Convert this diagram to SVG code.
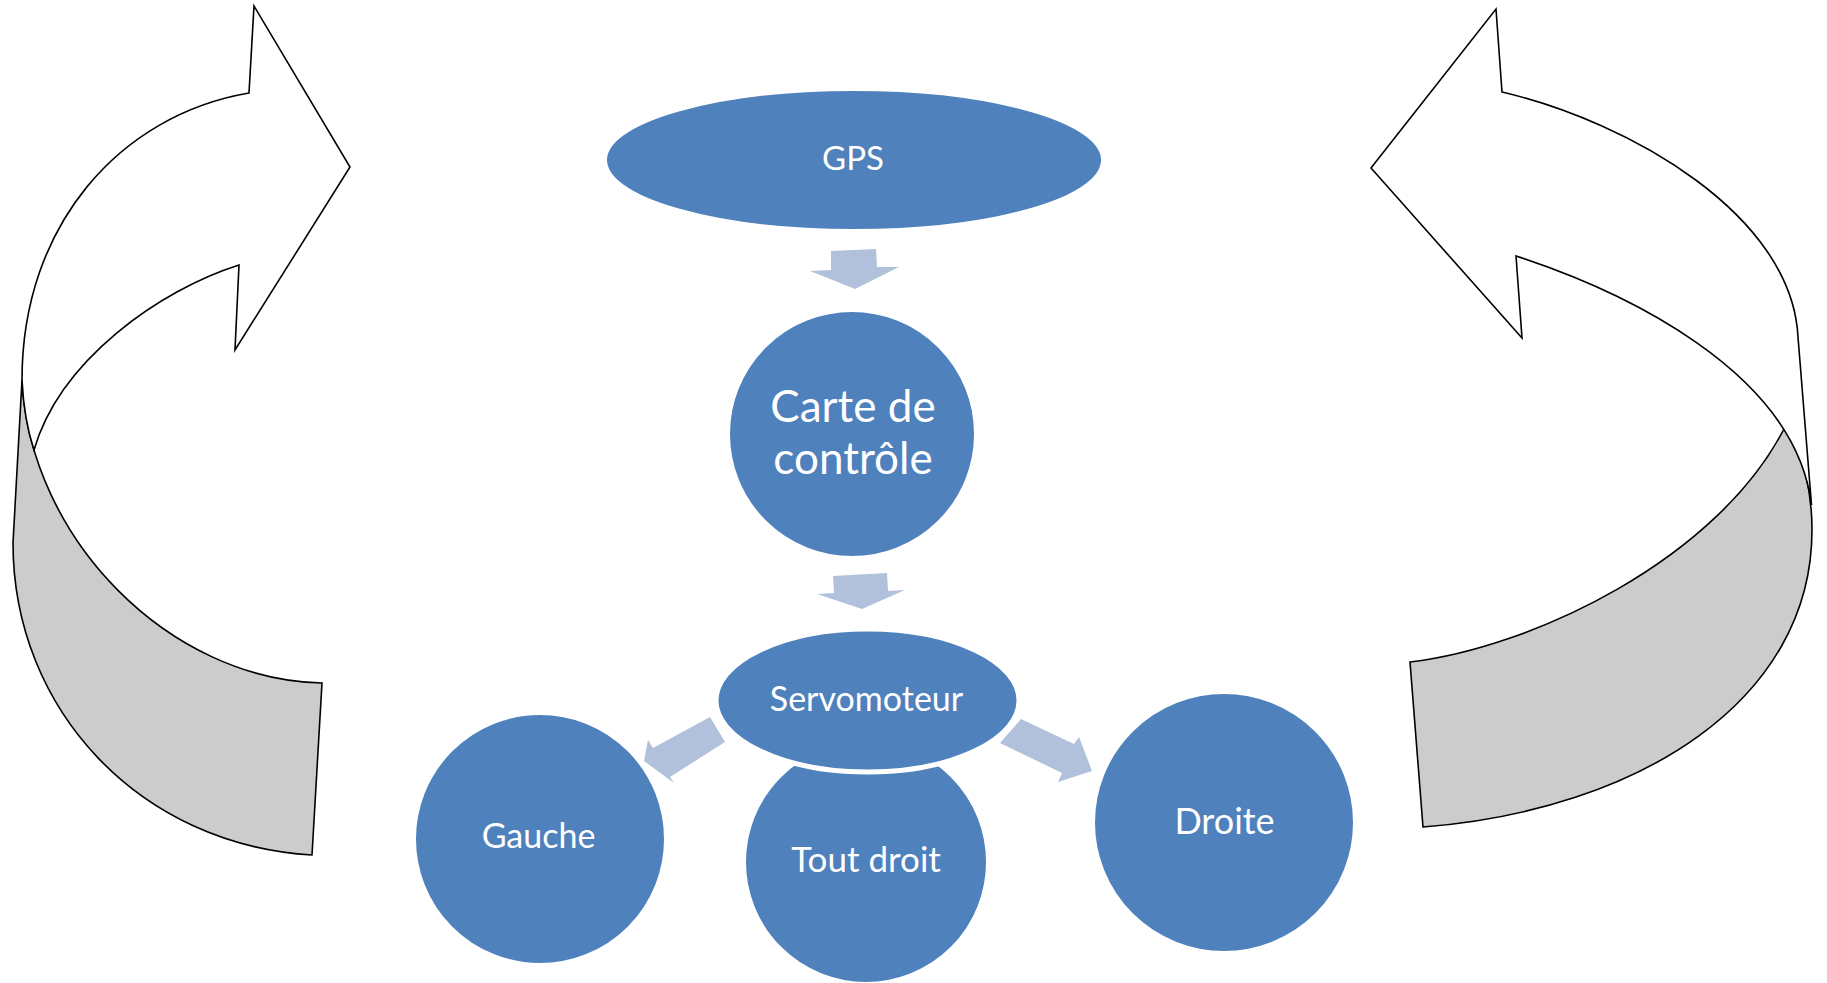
<svg xmlns="http://www.w3.org/2000/svg" width="1827" height="983" viewBox="0 0 1827 983">
<style>
.node{fill:#4F81BD;stroke:#FFFFFF;stroke-width:2}
.lbl{fill:#FFFFFF;font-family:Lato,"Liberation Sans",sans-serif;text-anchor:middle}
.conn{fill:#B2C1DB;stroke:none}
.band{fill:#CCCCCC;stroke:#000000;stroke-width:1.6;stroke-linejoin:miter}
.front{fill:#FFFFFF;stroke:#000000;stroke-width:1.6;stroke-linejoin:miter}
</style>
<rect width="1827" height="983" fill="#FFFFFF"/>
<g id="cycle-left">
<path class="band" d="M 22,380 L 13,543 C 13,710 140,845 312,855 L 322,683 C 170,680 30,540 22,380 Z"/>
<path class="front" d="M 22,380 C 22,225 120,115 249,93 L 254,6 L 350,167 L 235,350 L 239,265 C 160,290 60,360 34,450 Q 24,420 22,380 Z"/>
</g>
<g id="cycle-right">
<path class="band" d="M 1787,423 C 1802,450 1812,490 1812,530 C 1812,700 1640,810 1423,827 L 1410,662 C 1530,648 1720,560 1787,423 Z"/>
<path class="front" d="M 1502,92 L 1496,9 L 1371,168 L 1522,338 L 1516,256 C 1620,290 1795,370 1811.5,505 L 1798,337 C 1792,215 1630,122 1502,92 Z"/>
</g>
<g id="connectors">
<polygon class="conn" points="831,251 876,249 877,267 899,267 855,289 810,271 831,270"/>
<polygon class="conn" points="833,576 887,573 888,591 905,590 862,609 817,594 834,593"/>
<polygon class="conn" points="710,717 725,742 670,777 674,783 644,761 648,740 653,748"/>
<polygon class="conn" points="1021,719 1074,744 1079,737 1092,771 1058,782 1062,773 1000,743"/>
</g>
<g id="node-gps">
<ellipse class="node" cx="854" cy="160" rx="248" ry="70"/>
<text class="lbl" x="853" y="170" font-size="33">GPS</text>
</g>
<g id="node-carte">
<ellipse class="node" cx="852" cy="434" rx="123" ry="123"/>
<text class="lbl" x="853" y="422" font-size="44">Carte de</text>
<text class="lbl" x="853" y="474" font-size="44">contrôle</text>
</g>
<g id="node-toutdroit">
<ellipse class="node" cx="866" cy="862" rx="121" ry="121"/>
<text class="lbl" x="866" y="872" font-size="35">Tout droit</text>
</g>
<g id="node-servomoteur">
<ellipse class="node" cx="867.5" cy="700.5" rx="151.5" ry="71.5" style="stroke-width:5"/>
<text class="lbl" x="866.5" y="711" font-size="34">Servomoteur</text>
</g>
<g id="node-gauche">
<ellipse class="node" cx="540" cy="839" rx="125" ry="125"/>
<text class="lbl" x="538.5" y="848" font-size="34">Gauche</text>
</g>
<g id="node-droite">
<ellipse class="node" cx="1224" cy="822.5" rx="130" ry="129.5"/>
<text class="lbl" x="1224.5" y="834" font-size="36">Droite</text>
</g>
</svg>
